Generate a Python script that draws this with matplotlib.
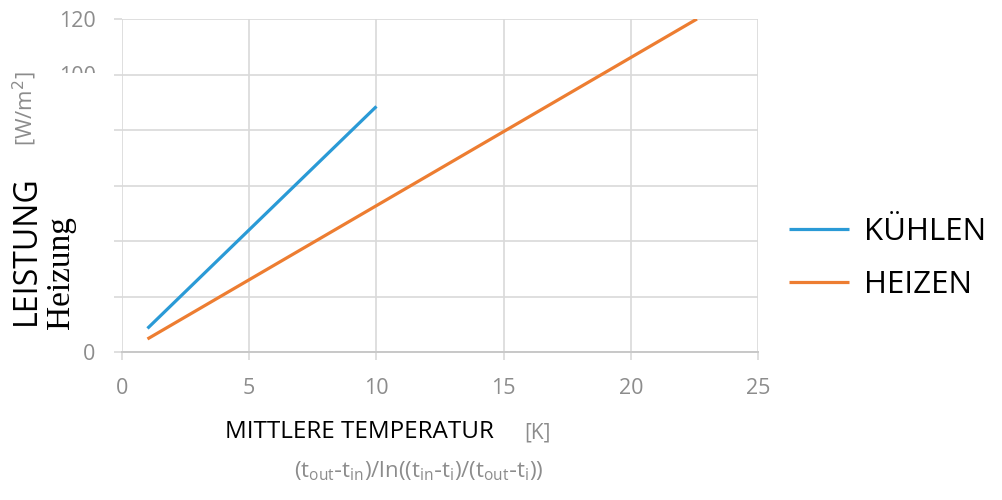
import matplotlib.pyplot as plt
from matplotlib.patches import Rectangle

# data
kuehlen_x = [1, 10]
kuehlen_y = [8.5, 88.5]
heizen_x = [1, 22.6]
heizen_y = [4.7, 120]

x_ticks = [0, 5, 10, 15, 20, 25]
y_ticks = [0, 20, 40, 60, 80, 100, 120]
y_ticklabels = ['0', '', '', '', '', '100', '120']

blue = '#2a9ad6'
orange = '#ed7d31'
grey = '#8c8c8c'
gridc = '#d9d9d9'

plt.rcParams['font.family'] = ['Open Sans', 'DejaVu Sans']

fig = plt.figure(figsize=(10.02, 5.0), dpi=100)
ax = fig.add_axes([0.1218, 0.296, 0.6347, 0.666])

ax.plot(kuehlen_x, kuehlen_y, color=blue, lw=2.3, solid_capstyle='butt', label='KÜHLEN')
ax.plot(heizen_x, heizen_y, color=orange, lw=2.3, solid_capstyle='butt', label='HEIZEN')

ax.set_xlim(0, 25)
ax.set_ylim(0, 120)
ax.set_xticks(x_ticks)
ax.set_yticks(y_ticks)
ax.set_yticklabels(y_ticklabels)
ax.grid(True, color=gridc, lw=1.2)
ax.set_axisbelow(True)
for s in ['top', 'right', 'left']:
    ax.spines[s].set_visible(False)
ax.spines['bottom'].set_color('#c8c8c8')
ax.spines['bottom'].set_linewidth(1.4)
ax.tick_params(axis='both', colors=gridc, labelcolor=grey, labelsize=15.5, length=6, width=1.2)
ax.tick_params(axis='x', pad=13)
ax.tick_params(axis='y', pad=13)

# white box that hides part of the y tick labels
fig.patches.append(Rectangle((0, 0.32), 0.11, 0.534, transform=fig.transFigure,
                             facecolor='white', edgecolor='none', zorder=5))

fig.text(0.026, 0.50, 'LEISTUNG', rotation=90, ha='center', va='center',
         fontsize=23, color='black', zorder=6)
fig.text(0.025, 0.782, '[W/m$^2$]', rotation=90, ha='center', va='center',
         fontsize=16, color=grey, zorder=6)
fig.text(0.061, 0.455, 'Heizung', rotation=90, ha='center', va='center',
         fontsize=24, color='black', family='Liberation Serif', zorder=6)

fig.text(0.359, 0.136, 'MITTLERE TEMPERATUR', ha='center', va='center',
         fontsize=17.5, color='black')
fig.text(0.536, 0.134, '[K]', ha='center', va='center', fontsize=15, color=grey)
fig.text(0.418, 0.058, r'$\mathregular{(t_{out}\text{-}t_{in})/ln((t_{in}\text{-}t_{i})/(t_{out}\text{-}t_{i}))}$',
         ha='center', va='center', fontsize=16, color=grey)

leg = fig.legend(loc='center left', bbox_to_anchor=(0.759, 0.483), frameon=False,
                 fontsize=22.5, handlelength=1.92, handletextpad=0.5, labelspacing=0.72)

fig.savefig('out.png', dpi=100, facecolor='white')
